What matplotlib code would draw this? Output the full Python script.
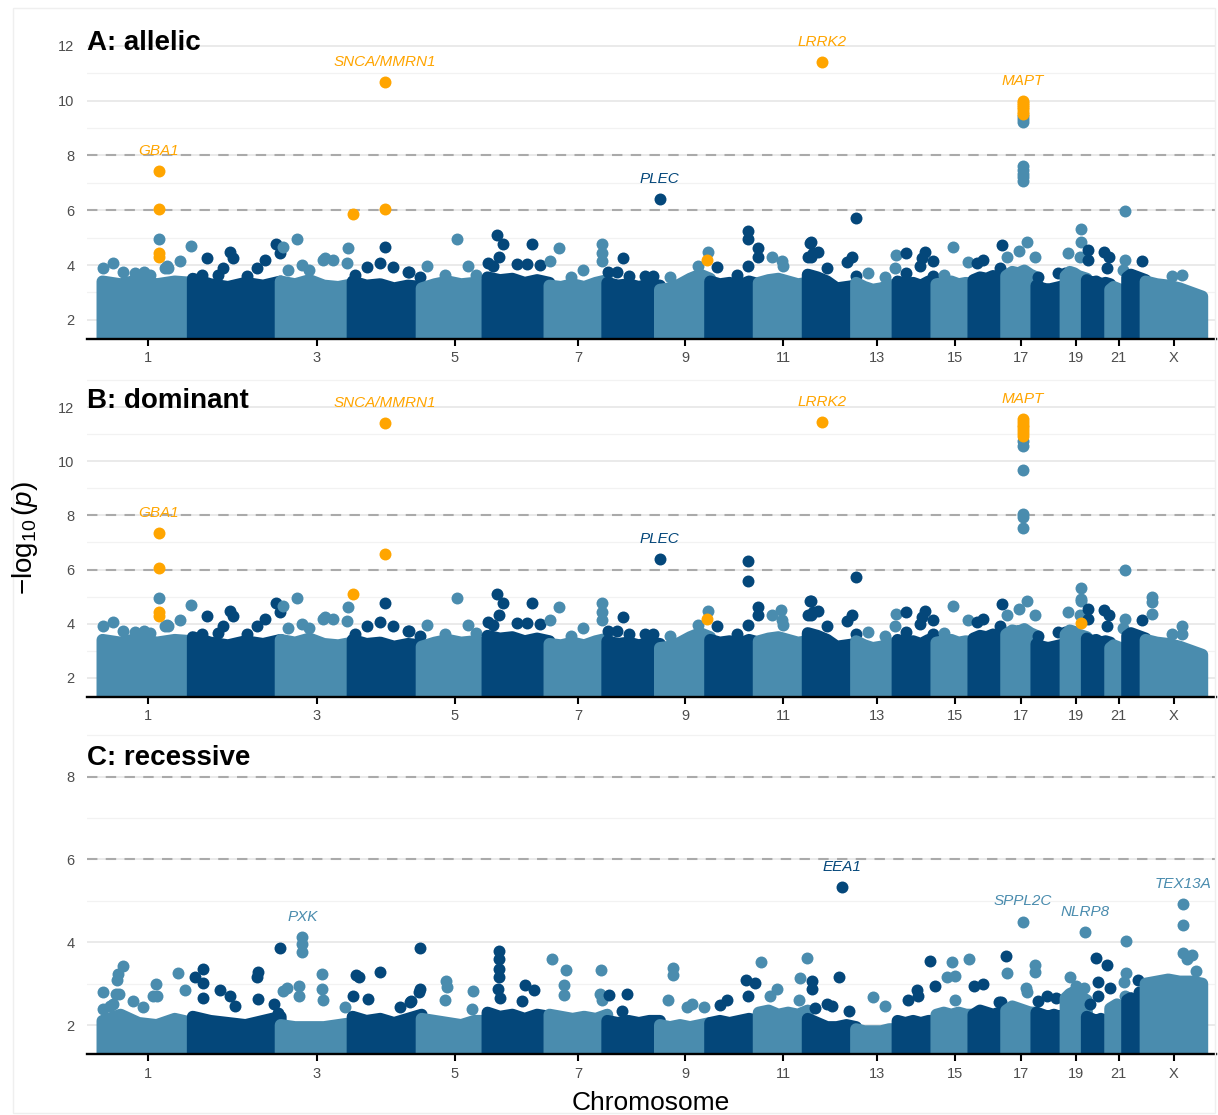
import numpy as np
import matplotlib
matplotlib.use("Agg")
import matplotlib.pyplot as plt
from matplotlib.patches import Rectangle

plt.rcParams["font.family"] = ["Liberation Sans", "DejaVu Sans"]
plt.rcParams["mathtext.fontset"] = "custom"
plt.rcParams["mathtext.rm"] = "Liberation Sans"
plt.rcParams["mathtext.it"] = "Liberation Sans:italic"

LIGHT = "#4A8CAE"
DARK = "#04477A"
HIT = "#FFA500"

# chromosomes (23 = X) and lengths in Mb, GRCh38
chrom_ids = list(range(1, 24))
chrom_names = [str(c) for c in range(1, 23)] + ["X"]
chrom_len = [248.96, 242.19, 198.30, 190.21, 181.54, 170.81, 159.35, 145.14,
             138.39, 133.80, 135.09, 133.28, 114.36, 107.04, 101.99, 90.34,
             83.26, 80.37, 58.62, 64.44, 46.71, 50.82, 156.04]

# top of the dense SNP cloud along each chromosome (-log10 p), allelic/dominant models
band_ab = [
    [3.40, 3.30, 3.45, 3.30, 3.40, 3.35], [3.50, 3.30, 3.20, 3.35, 3.25, 3.40],
    [3.40, 3.30, 3.45, 3.25, 3.20, 3.30], [3.40, 3.25, 3.30, 3.15, 3.25, 3.20],
    [3.15, 3.30, 3.40, 3.30, 3.35, 3.25], [3.55, 3.45, 3.50, 3.35, 3.45, 3.35],
    [3.25, 3.20, 3.30, 3.20, 3.35, 3.45], [3.35, 3.25, 3.30, 3.20, 3.30, 3.25],
    [3.10, 3.15, 3.30, 3.50, 3.65, 3.50], [3.40, 3.30, 3.35, 3.25, 3.40, 3.30],
    [3.35, 3.45, 3.50, 3.40, 3.30, 3.35], [3.65, 3.55, 3.40, 3.15, 3.20, 3.25],
    [3.35, 3.20, 3.10, 3.15, 3.25, 3.30], [3.40, 3.30, 3.35, 3.25, 3.40, 3.35],
    [3.30, 3.35, 3.40, 3.30, 3.35, 3.30], [3.45, 3.55, 3.50, 3.60, 3.55, 3.65],
    [3.60, 3.75, 3.70, 3.80, 3.65, 3.55], [3.25, 3.15, 3.10, 3.15, 3.20, 3.25],
    [3.60, 3.75, 3.70, 3.60, 3.55, 3.50], [3.45, 3.35, 3.40, 3.30, 3.35, 3.30],
    [3.10, 3.20, 3.15, 3.10, 3.05, 3.00], [3.55, 3.65, 3.60, 3.55, 3.50, 3.45],
    [3.40, 3.30, 3.25, 3.15, 3.00, 2.85],
]
# same for the recessive model
band_c = [
    [2.10, 2.25, 2.05, 2.00, 2.15, 2.05], [2.20, 2.10, 2.05, 2.00, 2.10, 2.20],
    [2.00, 1.95, 1.95, 1.95, 2.00, 2.05], [2.20, 2.10, 2.15, 2.05, 2.15, 2.25],
    [2.15, 2.10, 2.05, 2.00, 2.10, 2.10], [2.30, 2.20, 2.25, 2.15, 2.25, 2.20],
    [2.25, 2.20, 2.15, 2.20, 2.15, 2.25], [2.10, 2.05, 2.10, 2.05, 2.10, 2.10],
    [2.00, 1.95, 2.00, 1.95, 2.00, 2.05], [2.05, 2.10, 2.05, 2.10, 2.15, 2.10],
    [2.30, 2.35, 2.25, 2.30, 2.25, 2.35], [2.15, 2.05, 1.95, 1.95, 2.00, 1.95],
    [1.90, 1.85, 1.85, 1.85, 1.90, 1.90], [2.10, 2.05, 2.10, 2.05, 2.10, 2.10],
    [2.25, 2.30, 2.25, 2.30, 2.25, 2.25], [2.25, 2.35, 2.30, 2.25, 2.30, 2.25],
    [2.35, 2.45, 2.40, 2.35, 2.30, 2.30], [2.30, 2.25, 2.20, 2.25, 2.20, 2.25],
    [2.65, 2.75, 2.80, 2.70, 2.65, 2.60], [2.20, 2.15, 2.10, 2.15, 2.10, 2.15],
    [2.40, 2.45, 2.50, 2.45, 2.45, 2.45], [2.60, 2.65, 2.60, 2.55, 2.50, 2.50],
    [3.00, 3.05, 3.10, 3.05, 3.05, 3.00],
]

# SNPs standing above the cloud: (chromosome, Mb, -log10 p), common to allelic & dominant
points_ab = [
    (1, 0.5, 3.90), (1, 28, 4.07), (1, 56, 3.73), (1, 114, 3.73), (1, 155, 4.94),
    (1, 171, 3.90), (1, 181, 3.90), (1, 177, 3.95), (1, 213, 4.15), (1, 244, 4.70),
    (1, 90, 3.70), (1, 130, 3.65),
    (2, 24, 3.63), (2, 38, 4.27), (2, 70, 3.65), (2, 84, 3.90), (2, 102, 4.47),
    (2, 111, 4.27), (2, 176, 3.90), (2, 199, 4.19), (2, 228, 4.76), (2, 240, 4.43),
    (2, 150, 3.60),
    (3, 7, 4.65), (3, 21, 3.83), (3, 44, 4.94), (3, 58, 3.99), (3, 77, 3.83),
    (3, 116, 4.19), (3, 122, 4.25), (3, 145, 4.19), (3, 184, 4.08), (3, 186, 4.62),
    (4, 6, 3.63), (4, 39, 3.91), (4, 75, 4.07), (4, 112, 3.91), (4, 153, 3.73),
    (4, 156, 3.73), (4, 185, 3.55),
    (5, 14, 3.95), (5, 64, 3.63), (5, 97, 4.94), (5, 129, 3.95), (5, 150, 3.65),
    (6, 2, 4.07), (6, 16, 3.95), (6, 25, 5.08), (6, 32, 4.31), (6, 43, 4.76),
    (6, 80, 4.03), (6, 108, 4.03), (6, 122, 4.76), (6, 145, 4.00),
    (7, 1, 4.15), (7, 26, 4.62), (7, 92, 3.83), (7, 144, 4.76), (7, 144, 4.43),
    (7, 144, 4.15), (7, 60, 3.55),
    (8, 3, 3.73), (8, 26, 3.73), (8, 42, 4.25), (8, 60, 3.60), (8, 104, 3.60),
    (8, 127, 3.60), (8, 143.9, 6.40),
    (9, 28, 3.55), (9, 106, 3.95), (9, 133, 4.46),
    (10, 18, 3.91), (10, 73, 3.63), (10, 103, 3.95), (10, 132, 4.62), (10, 132, 4.31),
    (11, 36, 4.31), (11, 63, 4.13), (11, 68, 3.95),
    (12, 2, 4.31), (12, 6, 4.82), (12, 8, 4.84), (12, 10, 4.31), (12, 15, 4.43),
    (12, 29, 4.47), (12, 52, 3.90), (12, 108, 4.10), (12, 121, 4.31), (12, 132, 3.60),
    (12, 133, 5.71),
    (13, 34, 3.70), (13, 79, 3.55), (13, 108, 3.90), (13, 110, 4.35),
    (14, 23, 4.43), (14, 23, 3.70), (14, 62, 3.98), (14, 67, 4.25), (14, 76, 4.47),
    (14, 97, 4.15), (14, 98, 3.60),
    (15, 47, 4.65), (15, 88, 4.12), (15, 20, 3.65),
    (16, 9, 4.07), (16, 26, 4.19), (16, 74, 3.90), (16, 78, 4.74),
    (17, 1, 4.31), (17, 34, 4.53), (17, 57, 4.84), (17, 79, 4.31),
    (18, 5, 3.55), (18, 60, 3.70), (18, 78, 3.70),
    (19, 8, 4.43), (19, 40, 4.31), (19, 42, 4.84), (19, 42, 5.31),
    (20, 2, 4.55), (20, 2, 4.19), (20, 47, 4.49), (20, 55, 3.90), (20, 62, 4.31),
    (21, 41, 5.99), (21, 41, 4.19), (21, 35, 3.83),
    (22, 40, 4.15),
    (23, 72, 3.60), (23, 100, 3.63),
]
points_allelic = [
    (4, 90, 4.64), (10, 103.5, 5.24), (10, 103.5, 4.94),
    (17, 45.9, 9.45), (17, 45.9, 9.33), (17, 45.9, 9.22),
    (17, 45.9, 7.60), (17, 45.9, 7.47), (17, 45.9, 7.34), (17, 45.9, 7.20), (17, 45.9, 7.08),
]
points_dominant = [
    (4, 90, 4.77), (10, 103.5, 6.30), (10, 103.5, 5.57), (11, 62, 4.52), (19, 42, 4.92),
    (17, 45.9, 10.75), (17, 45.9, 10.55), (17, 45.9, 9.69),
    (17, 45.9, 8.06), (17, 45.9, 7.94), (17, 45.9, 7.54),
    (23, 17, 4.98), (23, 17, 4.79), (23, 17, 4.34), (23, 100, 3.90),
]
points_recessive = [
    (1, 56, 3.42), (1, 43, 3.23), (1, 41, 3.09), (1, 0.5, 2.79), (1, 38, 2.74),
    (1, 45, 2.74), (1, 2, 2.39), (1, 85, 2.58), (1, 112, 2.44), (1, 147, 2.99),
    (1, 140, 2.70), (1, 150, 2.70), (1, 207, 3.25), (1, 227, 2.84), (1, 30, 2.50),
    (1, 20, 2.45),
    (2, 29, 3.35), (2, 6, 3.16), (2, 27, 3.02), (2, 28, 2.65), (2, 75, 2.85),
    (2, 103, 2.71), (2, 117, 2.47), (2, 180, 3.27), (2, 176, 3.15), (2, 180, 2.62),
    (2, 241, 3.86), (2, 225, 2.50), (2, 235, 2.30),
    (3, 59.6, 4.12), (3, 59.6, 3.96), (3, 59.6, 3.77), (3, 17, 2.89), (3, 7, 2.83),
    (3, 50, 2.95), (3, 50, 2.70), (3, 113, 3.23), (3, 113, 2.87), (3, 116, 2.60),
    (3, 177, 2.44),
    (4, 9, 3.21), (4, 18, 3.15), (4, 76, 3.27), (4, 42, 2.62), (4, 1, 2.70),
    (4, 130, 2.44), (4, 158, 2.55), (4, 187, 3.86), (4, 187, 2.87), (4, 160, 2.57),
    (4, 183, 2.80),
    (5, 66, 3.06), (5, 69, 2.91), (5, 64, 2.60), (5, 142, 2.83), (5, 140, 2.38),
    (6, 31, 3.80), (6, 31, 3.60), (6, 31, 3.35), (6, 31, 3.15), (6, 28, 2.87),
    (6, 35, 2.66), (6, 103, 2.97), (6, 128, 2.85), (6, 94, 2.57),
    (7, 6, 3.59), (7, 45, 3.34), (7, 39, 2.97), (7, 39, 2.72), (7, 142, 3.33),
    (7, 140, 2.75), (7, 145, 2.60),
    (8, 5, 2.72), (8, 54, 2.75), (8, 40, 2.35),
    (9, 37, 3.37), (9, 37, 3.21), (9, 22, 2.60), (9, 74, 2.43), (9, 88, 2.50),
    (9, 120, 2.43),
    (10, 27, 2.48), (10, 46, 2.60), (10, 100, 3.09), (10, 124, 3.01), (10, 103, 2.70),
    (11, 5, 3.53), (11, 49, 2.87), (11, 30, 2.70), (11, 132, 3.61), (11, 113, 3.13),
    (11, 110, 2.60),
    (12, 11, 3.06), (12, 11, 2.87), (12, 93.6, 5.34), (12, 87, 3.15), (12, 53, 2.50),
    (12, 68, 2.45), (12, 114, 2.35), (12, 20, 2.40),
    (13, 47, 2.68), (13, 79, 2.47),
    (14, 89, 3.55), (14, 103, 2.94), (14, 53, 2.85), (14, 57, 2.70), (14, 30, 2.60),
    (15, 42, 3.53), (15, 91, 3.59), (15, 28, 3.15), (15, 51, 3.19), (15, 51, 2.60),
    (16, 1, 2.95), (16, 27, 2.99), (16, 70, 2.55), (16, 77, 2.55), (16, 89, 3.67),
    (17, 45.9, 4.50), (17, 1, 3.25), (17, 79, 3.45), (17, 79, 3.27), (17, 55, 2.90),
    (17, 57, 2.80),
    (18, 28, 2.71), (18, 5, 2.59), (18, 53, 2.66),
    (19, 54, 4.24), (19, 12, 3.15), (19, 50, 2.90), (19, 30, 2.95),
    (20, 24, 3.61), (20, 56, 3.45), (20, 32, 3.05), (20, 63, 2.89), (20, 10, 2.50),
    (20, 30, 2.70),
    (21, 43, 4.02), (21, 44, 3.25), (21, 37, 3.05), (21, 40, 2.70),
    (22, 31, 3.09), (22, 33, 2.80), (22, 33, 2.60),
    (23, 104, 4.92), (23, 104, 4.42), (23, 103, 3.74), (23, 113, 3.59), (23, 127, 3.69),
    (23, 140, 3.30),
]

# highlighted loci (orange)
hits_allelic = [
    (1, 155.2, 7.44), (1, 155.2, 6.05), (1, 155.2, 4.43), (1, 155.2, 4.29),
    (4, 1, 5.87), (4, 90, 10.68), (4, 90, 6.05), (9, 129, 4.19), (12, 40.3, 11.42),
    (17, 45.9, 10.00), (17, 45.9, 9.92), (17, 45.9, 9.84), (17, 45.9, 9.76),
    (17, 45.9, 9.68), (17, 45.9, 9.60), (17, 45.9, 9.52),
]
hits_dominant = [
    (1, 155.2, 7.36), (1, 155.2, 6.07), (1, 155.2, 4.42), (1, 155.2, 4.27),
    (4, 1, 5.08), (4, 90, 11.41), (4, 90, 6.56), (9, 129, 4.18), (12, 40.3, 11.46),
    (19, 43, 4.03),
    (17, 45.9, 11.55), (17, 45.9, 11.45), (17, 45.9, 11.35), (17, 45.9, 11.25),
    (17, 45.9, 11.15), (17, 45.9, 11.05), (17, 45.9, 10.95),
]
hits_recessive = []

# gene labels: (name, chromosome, Mb, -log10 p of top SNP, colour)
labels_allelic = [
    ("GBA1", 1, 155.2, 7.44, HIT), ("SNCA/MMRN1", 4, 90, 10.68, HIT),
    ("LRRK2", 12, 40.3, 11.42, HIT), ("MAPT", 17, 45.9, 10.00, HIT),
    ("PLEC", 8, 143.9, 6.40, DARK),
]
labels_dominant = [
    ("GBA1", 1, 155.2, 7.36, HIT), ("SNCA/MMRN1", 4, 90, 11.41, HIT),
    ("LRRK2", 12, 40.3, 11.46, HIT), ("MAPT", 17, 45.9, 11.55, HIT),
    ("PLEC", 8, 143.9, 6.40, DARK),
]
labels_recessive = [
    ("PXK", 3, 59.6, 4.12, LIGHT), ("EEA1", 12, 93.6, 5.34, DARK),
    ("SPPL2C", 17, 45.9, 4.50, LIGHT), ("NLRP8", 19, 54, 4.24, LIGHT),
    ("TEX13A", 23, 104, 4.92, LIGHT),
]

offsets = np.concatenate([[0], np.cumsum(chrom_len)[:-1]])
centres = offsets + np.array(chrom_len) / 2

W, H = 1218, 1115
fig = plt.figure(figsize=(W / 100, H / 100), dpi=100)
fig.add_artist(Rectangle((13 / W, 2 / H), 1202 / W, 1105 / H, transform=fig.transFigure,
                         fill=False, ec="#EFEFEF", lw=1))

DOT = 74  # marker area, pt^2
DOT_W = 8.6  # same size as a stroke width, pt


def gpos(c, mb):
    return offsets[c - 1] + np.asarray(mb)


def draw_panel(rect, band, points, hits, labels, ylim, yticks, title, title_y):
    ax = fig.add_axes(rect)
    ax.set_xlim(-42.7, 3069)
    ax.set_ylim(*ylim)
    for y in range(2, int(ylim[1]) + 1, 2):
        ax.axhline(y, color="#EAEAEA", lw=1.4, zorder=0)
    for y in range(3, int(ylim[1]) + 1, 2):
        ax.axhline(y, color="#F2F2F2", lw=0.9, zorder=0)
    for y in (6, 8):
        ax.axhline(y, color="#AAAAAA", lw=1.5, dashes=(5, 4), zorder=1)

    for i, c in enumerate(chrom_ids):
        col = LIGHT if c % 2 else DARK
        start, end = offsets[i], offsets[i] + chrom_len[i]
        xs = np.linspace(start, end, len(band[i]))
        px = np.concatenate([[start], xs, [end]])
        py = np.concatenate([[0.5], band[i], [0.5]])
        patch, = ax.fill(px, py, facecolor=col, edgecolor=col, lw=DOT_W, zorder=2)
        patch.set_joinstyle("round")
        sel = [(p, v) for cc, p, v in points if cc == c]
        if sel:
            pp, vv = zip(*sel)
            ax.scatter(gpos(c, pp), vv, s=DOT, color=col, lw=0, zorder=2)

    if hits:
        hc, hp, hv = zip(*hits)
        ax.scatter([gpos(c, p) for c, p in zip(hc, hp)], hv, s=DOT, color=HIT, lw=0, zorder=3)

    for name, c, p, v, col in labels:
        ax.annotate(name, (gpos(c, p), v), xytext=(0, 14.5), textcoords="offset points",
                    ha="center", va="center", fontsize=11, style="italic", color=col, zorder=5)

    tick_idx = list(range(0, 22, 2)) + [22]
    ax.set_xticks(centres[tick_idx])
    ax.set_xticklabels([chrom_names[k] for k in tick_idx])
    ax.set_yticks(yticks)
    ax.tick_params(axis="x", length=5, width=1.5, color="black", labelsize=10.5,
                   labelcolor="#4D4D4D", pad=4)
    ax.tick_params(axis="y", length=0, labelsize=10.5, labelcolor="#4D4D4D", pad=9)
    for s in ("top", "left", "right"):
        ax.spines[s].set_visible(False)
    ax.spines["bottom"].set_linewidth(1.7)
    ax.spines["bottom"].set_zorder(6)
    fig.text(87 / W, 1 - title_y / H, title, fontsize=20, fontweight="bold", va="baseline")
    return ax


left, width = 87 / W, 1129 / W
draw_panel([left, 1 - 339 / H, width, 304.1 / H], band_ab, points_ab + points_allelic,
           hits_allelic, labels_allelic, (1.3, 12.4), [2, 4, 6, 8, 10, 12], "A: allelic", 50)
draw_panel([left, 1 - 696.7 / H, width, 322.0 / H], band_ab, points_ab + points_dominant,
           hits_dominant, labels_dominant, (1.3, 13.2), [2, 4, 6, 8, 10, 12], "B: dominant", 408)
draw_panel([left, 1 - 1054 / H, width, 322.9 / H], band_c, points_recessive,
           hits_recessive, labels_recessive, (1.3, 9.1), [2, 4, 6, 8], "C: recessive", 765)

fig.text(25 / W, 1 - 538 / H, r"$-\log_{10}(p)$", rotation=90, fontsize=20,
         ha="center", va="center")
fig.text(651 / W, 1 - 1103 / H, "Chromosome", fontsize=19, ha="center", va="center")

fig.savefig("out.png", dpi=100)
